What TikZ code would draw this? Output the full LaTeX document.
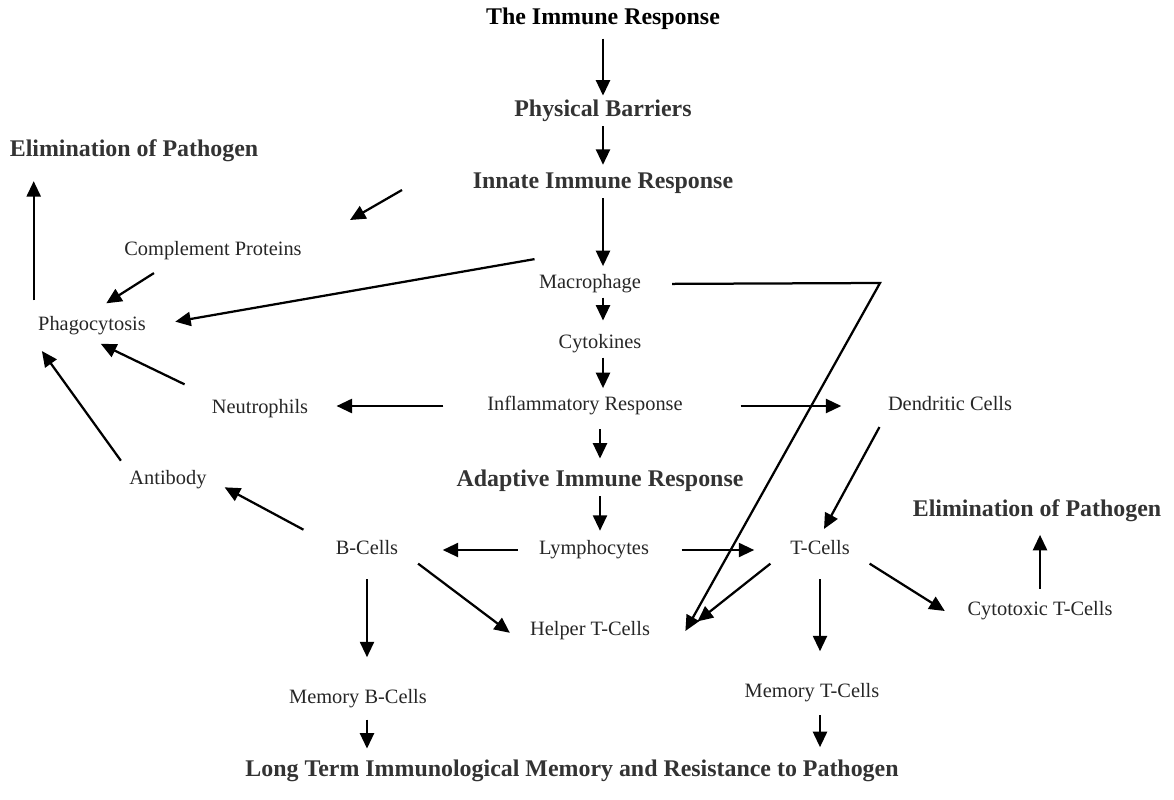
\documentclass[tikz,border=0pt]{standalone}
\usepackage{fontspec}
\setmainfont{Liberation Serif}
\usetikzlibrary{arrows.meta}
\tikzset{
	lbl/.style={font=\fontsize{14.5}{17}\selectfont,text=black!85,inner sep=3pt,text height=10pt,text depth=3pt},
	hdr/.style={lbl,font=\fontsize{17}{20}\selectfont\bfseries,text=black!80,text height=12pt,text depth=3.5pt},
	arr/.style={-{Triangle[length=11pt,width=10pt]},line width=1.6pt},
}
\begin{document}
\begin{tikzpicture}[x=0.025cm,y=-0.025cm]
	\useasboundingbox (0,0) rectangle (1174,800);
	% main column
	\node[hdr,text=black] (immune) at (603,19) {The Immune Response};
	\node[hdr] (phys) at (603,111) {Physical Barriers};
	\node[hdr] (innate) at (603,183) {Innate Immune Response};
	\node[lbl] (macro) at (590,284) {Macrophage};
	\node[lbl] (cytok) at (600,344) {Cytokines};
	\node[lbl] (inflam) at (585,406) {Inflammatory Response};
	\node[hdr] (adapt) at (600,481) {Adaptive Immune Response};
	\node[lbl] (lymph) at (594,550) {Lymphocytes};
	% left side
	\node[hdr] (elimL) at (134,151) {Elimination of Pathogen};
	\node[lbl] (compl) at (213,251) {Complement Proteins};
	\node[lbl] (phago) at (92,326) {Phagocytosis};
	\node[lbl] (neutro) at (260,409) {Neutrophils};
	\node[lbl] (antib) at (168,480) {Antibody};
	\node[lbl,inner xsep=14pt] (bcell) at (367,550) {B-Cells};
	\node[lbl] (memB) at (358,699) {Memory B-Cells};
	\node[lbl] (helper) at (590,631) {Helper T-Cells};
	% right side
	\node[lbl] (dendr) at (950,406) {Dendritic Cells};
	\node[lbl,inner xsep=14pt] (tcell) at (820,550) {T-Cells};
	\node[hdr] (elimR) at (1037,511) {Elimination of Pathogen};
	\node[lbl] (cytot) at (1040,611) {Cytotoxic T-Cells};
	\node[lbl] (memT) at (812,693) {Memory T-Cells};
	\node[hdr] (longterm) at (572,771) {Long Term Immunological Memory and Resistance to Pathogen};
	% helper points
	\coordinate (bend) at (880,283);
	\coordinate (helperR) at ([xshift=22pt]helper.east);
	\coordinate (strayA) at (402,190);
	\coordinate (strayB) at (350,220);

	% down the middle
	\draw[arr,shorten <=3pt] (immune) -- (phys);
	\draw[arr,shorten >=2pt] (phys) -- (innate);
	\draw[arr,shorten >=3pt] (innate.south) -- (innate.south |- macro.north);
	\draw[arr,shorten >=7pt] (innate.south |- macro.south) -- (innate.south |- cytok.north);
	\draw[arr,shorten >=3pt] (innate.south |- cytok.south) -- (innate.south |- inflam.north);
	\draw[arr,shorten <=7pt,shorten >=5pt] (adapt.north |- inflam.south) -- (adapt.north);
	\draw[arr,shorten >=4pt] (adapt.south) -- (adapt.south |- lymph.north);
	% sideways
	\draw[arr,shorten <=12pt,shorten >=17.5pt] (lymph.west) -- (lymph.west -| bcell.east);
	\draw[arr,shorten <=20pt,shorten >=11.5pt] (lymph.east) -- (lymph.east -| tcell.west);
	\draw[arr,shorten <=28pt,shorten >=17pt] (inflam.west) -- (inflam.west -| neutro.east);
	\draw[arr,shorten <=38pt,shorten >=30pt] (inflam.east) -- (inflam.east -| dendr.west);
	% right branch
	\draw[arr,shorten <=6pt,shorten >=6pt] (dendr.south west) -- (tcell.north);
	\draw[arr,shorten <=19pt] (macro.east) -- (bend) -- (helperR);
	\draw[arr,shorten >=11pt] (tcell.south west) -- (helperR);
	\draw[arr] (tcell.south east) -- ([xshift=-13pt]cytot.west);
	\draw[arr,shorten <=11pt,shorten >=20pt] (tcell.south) -- (tcell.south |- memT.north);
	\draw[arr,shorten <=6pt,shorten >=6pt] (memT.south -| tcell.south) -- (tcell.south |- longterm.north);
	\draw[arr,shorten <=6pt,shorten >=6pt] (cytot.north) -- (cytot.north |- elimR.south);
	% left branch
	\draw[arr,shorten >=14pt] (bcell.south east) -- (helper.south west);
	\draw[arr,shorten <=10pt,shorten >=11pt] (bcell.north west) -- (antib.east);
	\draw[arr,shorten <=11pt,shorten >=20pt] (bcell.south) -- (bcell.south |- memB.north);
	\draw[arr,shorten <=5pt,shorten >=5pt] (memB.south -| bcell.south) -- (bcell.south |- longterm.north);
	\draw[arr,shorten <=8.5pt,shorten >=10.5pt] (phago.north west) -- (phago.north west |- elimL.south);
	\draw[arr,shorten >=12pt] ([shift={(-42pt,-6pt)}]compl.south) -- (phago.north);
	\draw[arr,shorten <=18pt,shorten >=7pt] (neutro.north west) -- (phago.south);
	\draw[arr,shorten <=5pt,shorten >=10pt] (antib.north west) -- (phago.south west);
	\draw[arr,shorten >=18pt] ([yshift=8pt]macro.north west) -- (phago.east);
	\draw[arr] (strayA) -- (strayB);
\end{tikzpicture}
\end{document}
